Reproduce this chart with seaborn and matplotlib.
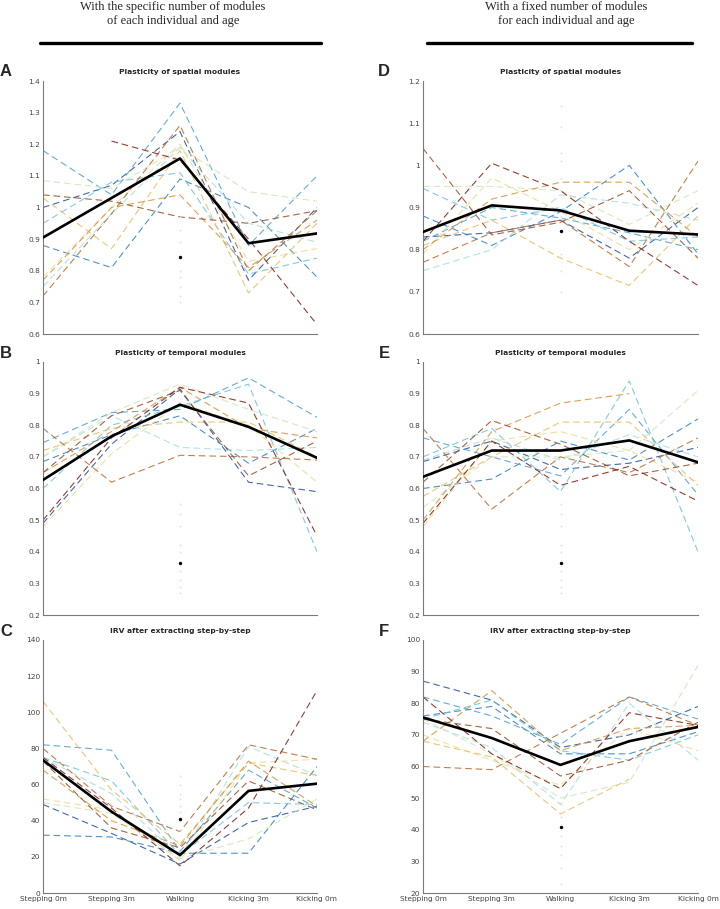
import numpy as np
import pandas as pd
import seaborn as sns
import matplotlib.pyplot as plt
from matplotlib.ticker import FuncFormatter

nan = np.nan

conditions = ["Stepping 0m", "Stepping 3m", "Walking", "Kicking 3m", "Kicking 0m"]
individuals = ["S%d" % i for i in range(1, 13)]

# individual colours, dark blue -> dark red
ind_colors = ["#1f4e9c", "#2e7fc0", "#4a9fd0", "#6ec0dc", "#a6dde0", "#cfe6b8",
              "#ecdc94", "#e7bd62", "#d6913a", "#b8692c", "#9a4a22", "#7f1d14"]

# ---- left column: specific number of modules ----
spatial_specific = [
    [1.00, 1.07, 1.24, 0.77, 1.00],
    [0.88, 0.81, 1.09, 1.00, 0.78],
    [1.18, 1.04, 1.33, 0.88, 1.10],
    [0.95, 1.08, 1.11, 0.79, 0.84],
    [0.75, 0.98, 1.19, 0.95, 0.89],
    [1.085, 1.06, 1.19, 1.05, 1.02],
    [0.78, 1.00, 1.20, 0.83, 0.87],
    [1.03, 0.87, 1.18, 0.73, 0.95],
    [0.77, 1.00, 1.04, 0.81, 0.96],
    [0.72, 0.98, 1.26, 0.80, 0.99],
    [nan, 1.21, 1.15, 0.90, 0.63],
    [1.04, 1.02, 0.97, 0.95, 0.99],
]
spatial_specific_mean = [0.905, 1.03, 1.155, 0.887, 0.918]
spatial_specific_dot = 0.845
spatial_specific_grey = [0.70, 0.72, 0.75, 0.78, 0.80, 0.89, 0.93, 0.97]

temporal_specific = [
    [0.49, 0.74, 0.915, 0.62, 0.59],
    [0.685, 0.77, 0.83, 0.68, 0.79],
    [0.745, 0.84, 0.85, 0.95, 0.825],
    [0.60, 0.80, 0.86, 0.93, 0.40],
    [0.70, 0.83, 0.73, 0.72, 0.73],
    [0.70, 0.84, 0.93, 0.85, 0.78],
    [0.48, 0.71, 0.87, 0.80, 0.62],
    [0.72, 0.79, 0.81, 0.81, 0.70],
    [0.65, 0.78, 0.92, 0.79, 0.76],
    [0.79, 0.62, 0.705, 0.70, 0.69],
    [0.65, 0.83, 0.91, 0.64, 0.75],
    [0.50, 0.76, 0.92, 0.87, 0.45],
]
temporal_specific_mean = [0.627, 0.765, 0.865, 0.795, 0.697]
temporal_specific_dot = 0.366
temporal_specific_grey = [0.27, 0.29, 0.31, 0.34, 0.40, 0.42, 0.48, 0.52, 0.55]

irv_specific = [
    [49, 33, 16, 39, 48],
    [32, 31, 22, 22, 70],
    [82, 79, 23, 68, 47],
    [75, 62, 21, 50, 49],
    [75, 55, 20, 81, 65],
    [50, 44, 19, 30, 52],
    [52, 46, 18, 72, 74],
    [106, 57, 27, 72, 65],
    [68, 40, 26, 73, 48],
    [80, 48, 34, 82, 74],
    [73, 36, 25, 62, 46],
    [75, 47, 15, 47, 112],
]
irv_specific_mean = [73.5, 45, 21, 56.5, 60.5]
irv_specific_dot = 41
irv_specific_grey = [35, 40, 45, 48, 52, 55, 60, 65]

# ---- right column: fixed number of modules ----
spatial_fixed = [
    [0.83, 0.84, 0.87, 0.78, 0.90],
    [0.88, 0.81, 0.89, 1.00, 0.79],
    [0.82, 0.90, 0.875, 0.84, 0.80],
    [0.945, 0.87, 0.90, 0.82, 0.83],
    [0.75, 0.80, 0.93, 0.91, 0.87],
    [0.95, 0.95, 0.94, 0.86, 0.94],
    [0.79, 0.97, 0.89, 0.80, 0.91],
    [0.81, 0.87, 0.78, 0.715, 0.88],
    [0.80, 0.92, 0.96, 0.96, 0.83],
    [0.77, 0.84, 0.87, 0.76, 1.01],
    [1.04, 0.835, 0.865, 0.94, 0.78],
    [0.82, 1.005, 0.94, 0.82, 0.715],
]
spatial_fixed_mean = [0.842, 0.905, 0.893, 0.845, 0.836]
spatial_fixed_dot = 0.845
spatial_fixed_grey = [0.70, 0.75, 0.79, 0.88, 0.97, 1.01, 1.03, 1.09, 1.14]

temporal_fixed = [
    [0.685, 0.75, 0.66, 0.68, 0.73],
    [0.60, 0.63, 0.75, 0.69, 0.82],
    [0.76, 0.70, 0.64, 0.85, 0.58],
    [0.70, 0.79, 0.59, 0.94, 0.40],
    [0.69, 0.76, 0.69, 0.77, 0.70],
    [0.54, 0.70, 0.70, 0.72, 0.91],
    [0.48, 0.75, 0.78, 0.72, 0.62],
    [0.575, 0.70, 0.81, 0.81, 0.61],
    [0.50, 0.78, 0.87, 0.90, nan],
    [0.79, 0.535, 0.70, 0.65, 0.76],
    [0.62, 0.815, 0.74, 0.64, 0.68],
    [0.49, 0.75, 0.61, 0.67, 0.56],
]
temporal_fixed_mean = [0.637, 0.72, 0.72, 0.752, 0.683]
temporal_fixed_dot = 0.366
temporal_fixed_grey = [0.27, 0.29, 0.31, 0.34, 0.40, 0.42, 0.48, 0.52, 0.55]

irv_fixed = [
    [87, 81, 66, 70, 79],
    [76, 79, 64, 64, 71],
    [82, 76, 67, 82, 75],
    [75, 81, 65, 62, 70],
    [74, 66, 48, 80, 62],
    [75, 64, 50, 55, 92],
    [70, 62, 54, 72, 65],
    [68, 63, 45, 56, nan],
    [68, 84, 65, 72, 73],
    [60, 59, 70.5, 82, 73],
    [75, 72, 57, 62, 74],
    [82, 64, 53, 77, 73],
]
irv_fixed_mean = [75.5, 69, 60.5, 68, 72.5]
irv_fixed_dot = 41
irv_fixed_grey = [23, 28, 32, 35, 38, 44, 48]

panels = [
    ("A", "Plasticity of spatial modules", spatial_specific, spatial_specific_mean,
     spatial_specific_dot, spatial_specific_grey, (0.6, 1.4), np.arange(0.6, 1.41, 0.1)),
    ("B", "Plasticity of temporal modules", temporal_specific, temporal_specific_mean,
     temporal_specific_dot, temporal_specific_grey, (0.2, 1.0), np.arange(0.2, 1.01, 0.1)),
    ("C", "IRV after extracting step-by-step", irv_specific, irv_specific_mean,
     irv_specific_dot, irv_specific_grey, (0, 140), np.arange(0, 141, 20)),
    ("D", "Plasticity of spatial modules", spatial_fixed, spatial_fixed_mean,
     spatial_fixed_dot, spatial_fixed_grey, (0.6, 1.2), np.arange(0.6, 1.21, 0.1)),
    ("E", "Plasticity of temporal modules", temporal_fixed, temporal_fixed_mean,
     temporal_fixed_dot, temporal_fixed_grey, (0.2, 1.0), np.arange(0.2, 1.01, 0.1)),
    ("F", "IRV after extracting step-by-step", irv_fixed, irv_fixed_mean,
     irv_fixed_dot, irv_fixed_grey, (20, 100), np.arange(20, 101, 10)),
]

sns.set_style("white")
plt.rcParams["font.family"] = ["DejaVu Sans"]

fig = plt.figure(figsize=(7.2, 9.09), dpi=100)

col_x = [43 / 720, 423 / 720]
col_w = [274 / 720, 275 / 720]
row_top = [81, 362, 640]
row_h = 253

axis_grey = "#7a7a7a"

for i, (letter, title, vals, mean, dot, grey, ylim, yticks) in enumerate(panels):
    col, row = divmod(i, 3)
    top = row_top[row]
    ax = fig.add_axes([col_x[col], 1 - (top + row_h) / 909, col_w[col], row_h / 909])

    df = pd.DataFrame(vals, columns=range(len(conditions)))
    df["ind"] = individuals
    long = df.melt(id_vars="ind", var_name="x", value_name="y").dropna()
    long["x"] = long["x"].astype(float)

    sns.lineplot(data=long, x="x", y="y", hue="ind", palette=ind_colors,
                 estimator=None, sort=True, legend=False, ax=ax,
                 linewidth=0.8, alpha=0.85, linestyle=(0, (6, 3.5)))

    ax.scatter([2] * len(grey), grey, s=2, color="#e2e2e2", zorder=3, linewidths=0)
    sns.lineplot(x=np.arange(len(conditions)), y=mean, color="black",
                 linewidth=1.9, ax=ax, zorder=4)
    ax.scatter([2], [dot], s=6, color="black", zorder=5, linewidths=0)

    ax.set_xlim(0, 4)
    ax.set_ylim(*ylim)
    ax.set_yticks(yticks)
    ax.yaxis.set_major_formatter(FuncFormatter(lambda v, p: "%g" % round(v, 2)))
    ax.set_xticks(range(len(conditions)))
    if row == 2:
        ax.set_xticklabels(conditions)
    else:
        ax.set_xticklabels([])
    ax.set_xlabel("")
    ax.set_ylabel("")
    ax.tick_params(direction="in", length=3, width=0.6, colors=axis_grey,
                   labelsize=5.3, labelcolor="#444444", pad=2)
    for s in ["top", "right"]:
        ax.spines[s].set_visible(False)
    for s in ["left", "bottom"]:
        ax.spines[s].set_color(axis_grey)
        ax.spines[s].set_linewidth(0.8)
    ax.set_title(title, fontsize=5.4, fontweight="bold", pad=5)

    letter_x = [6 / 720, 384 / 720][col]
    fig.text(letter_x, 1 - (top - 9) / 909, letter, fontsize=12, fontweight="bold",
             family=["Liberation Sans"], ha="center", va="center")

# column headers
headers = ["With the specific number of modules\nof each individual and age",
           "With a fixed number of modules\nfor each individual and age"]
header_cx = [173 / 720, 566 / 720]
line_span = [(40, 321), (427, 692)]
for hx, txt, (x0, x1) in zip(header_cx, headers, line_span):
    fig.text(hx, 1 - 14 / 909, txt, fontsize=9, family=["Liberation Serif"],
             ha="center", va="center", linespacing=1.2)
    fig.add_artist(plt.Line2D([x0 / 720, x1 / 720], [1 - 43 / 909] * 2,
                              color="black", linewidth=2.4))

fig.savefig("out.png", dpi=100)
